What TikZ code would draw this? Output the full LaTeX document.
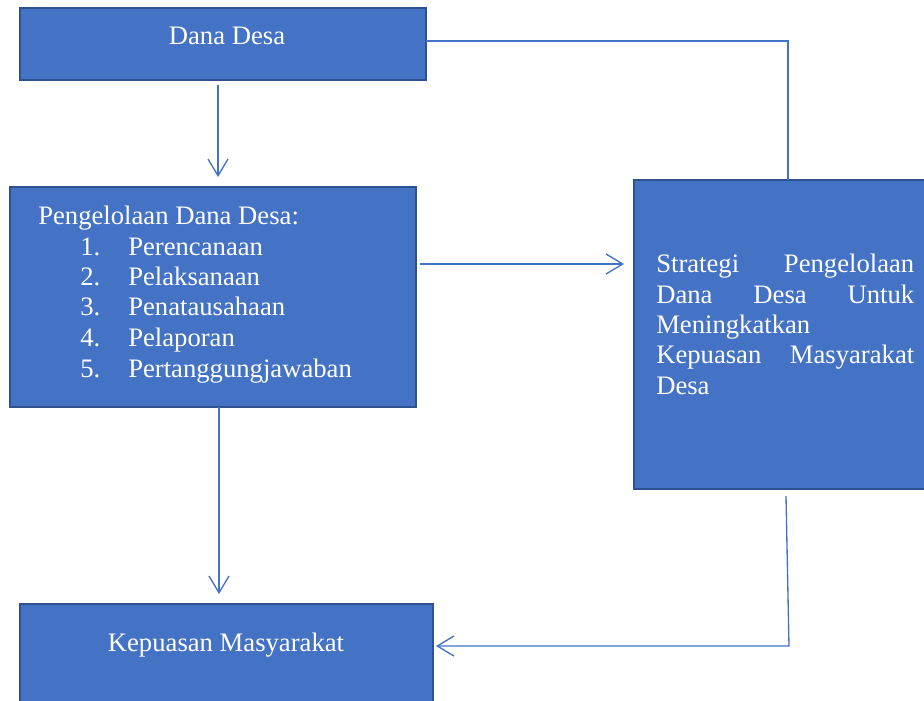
\documentclass[tikz,border=0pt]{standalone}
\usepackage{fontspec}
\setmainfont{Liberation Serif}
\usetikzlibrary{arrows.meta}
\definecolor{boxfill}{HTML}{4472C4}
\definecolor{boxline}{HTML}{2F528F}
\definecolor{conn}{HTML}{4472C4}
\tikzset{
  blk/.style={draw=boxline, fill=boxfill, line width=1.8pt},
  txt/.style={text=white, font=\fontsize{20}{23}\selectfont, inner sep=0pt},
  conline/.style={draw=conn, line width=1pt},
  arr/.style={conline, -{Straight Barb[length=12.5pt, width=15pt, line width=1pt]}},
}
\begin{document}
\begin{tikzpicture}[x=0.75pt, y=-0.75pt]
\useasboundingbox (0,0) rectangle (924,700);
% boxes
\path[blk] (20,8) rectangle (426,80);
\path[blk] (10,187) rectangle (416,407);
\path[blk] (634,180) rectangle (930,489);
\path[blk] (20,604) rectangle (433,710);
% named anchors
\coordinate (danaR) at (426,41);
\coordinate (danaB) at (218,85);
\coordinate (pengT) at (218,177);
\coordinate (pengR) at (420,264);
\coordinate (stratL) at (624,264);
\coordinate (stratT) at (788,180);
\coordinate (pengB) at (219,407);
\coordinate (kepT) at (219,594);
\coordinate (stratB) at (786,496);
\coordinate (corner) at (789,646);
\coordinate (kepR) at (436,646);
% texts
\node[txt, anchor=base] (t1) at (227,44) {Dana Desa};
\node[txt, anchor=base west] (t2) at (38,224) {Pengelolaan Dana Desa:};
\node[txt, anchor=base west] (n1) at (80,255) {1.};
\node[txt, anchor=base west] (i1) at (128,255) {Perencanaan};
\node[txt, anchor=base west] (n2) at (80,285) {2.};
\node[txt, anchor=base west] (i2) at (128,285) {Pelaksanaan};
\node[txt, anchor=base west] (n3) at (80,315) {3.};
\node[txt, anchor=base west] (i3) at (128,315) {Penatausahaan};
\node[txt, anchor=base west] (n4) at (80,346) {4.};
\node[txt, anchor=base west] (i4) at (128,346) {Pelaporan};
\node[txt, anchor=base west] (n5) at (80,377) {5.};
\node[txt, anchor=base west] (i5) at (128,377) {Pertanggungjawaban};
\node[txt, anchor=base west] (s1) at (656,272) {\makebox[193.5pt][s]{Strategi\hfill Pengelolaan}};
\node[txt, anchor=base west] (s2) at (656,303) {\makebox[193.5pt][s]{Dana\hfill Desa\hfill Untuk}};
\node[txt, anchor=base west] (s3) at (656,333) {Meningkatkan};
\node[txt, anchor=base west] (s4) at (656,363) {\makebox[193.5pt][s]{Kepuasan\hfill Masyarakat}};
\node[txt, anchor=base west] (s5) at (656,394) {Desa};
\node[txt, anchor=base] (t4) at (226,651) {Kepuasan Masyarakat};
% connectors
\draw[arr] (danaB) -- (pengT);
\draw[conline] (danaR) -- (danaR -| stratT) -- (stratT);
\draw[arr] (pengR) -- (stratL);
\draw[arr] (pengB) -- (kepT);
\draw[arr] (stratB) -- (corner) -- (kepR);
\end{tikzpicture}
\end{document}
